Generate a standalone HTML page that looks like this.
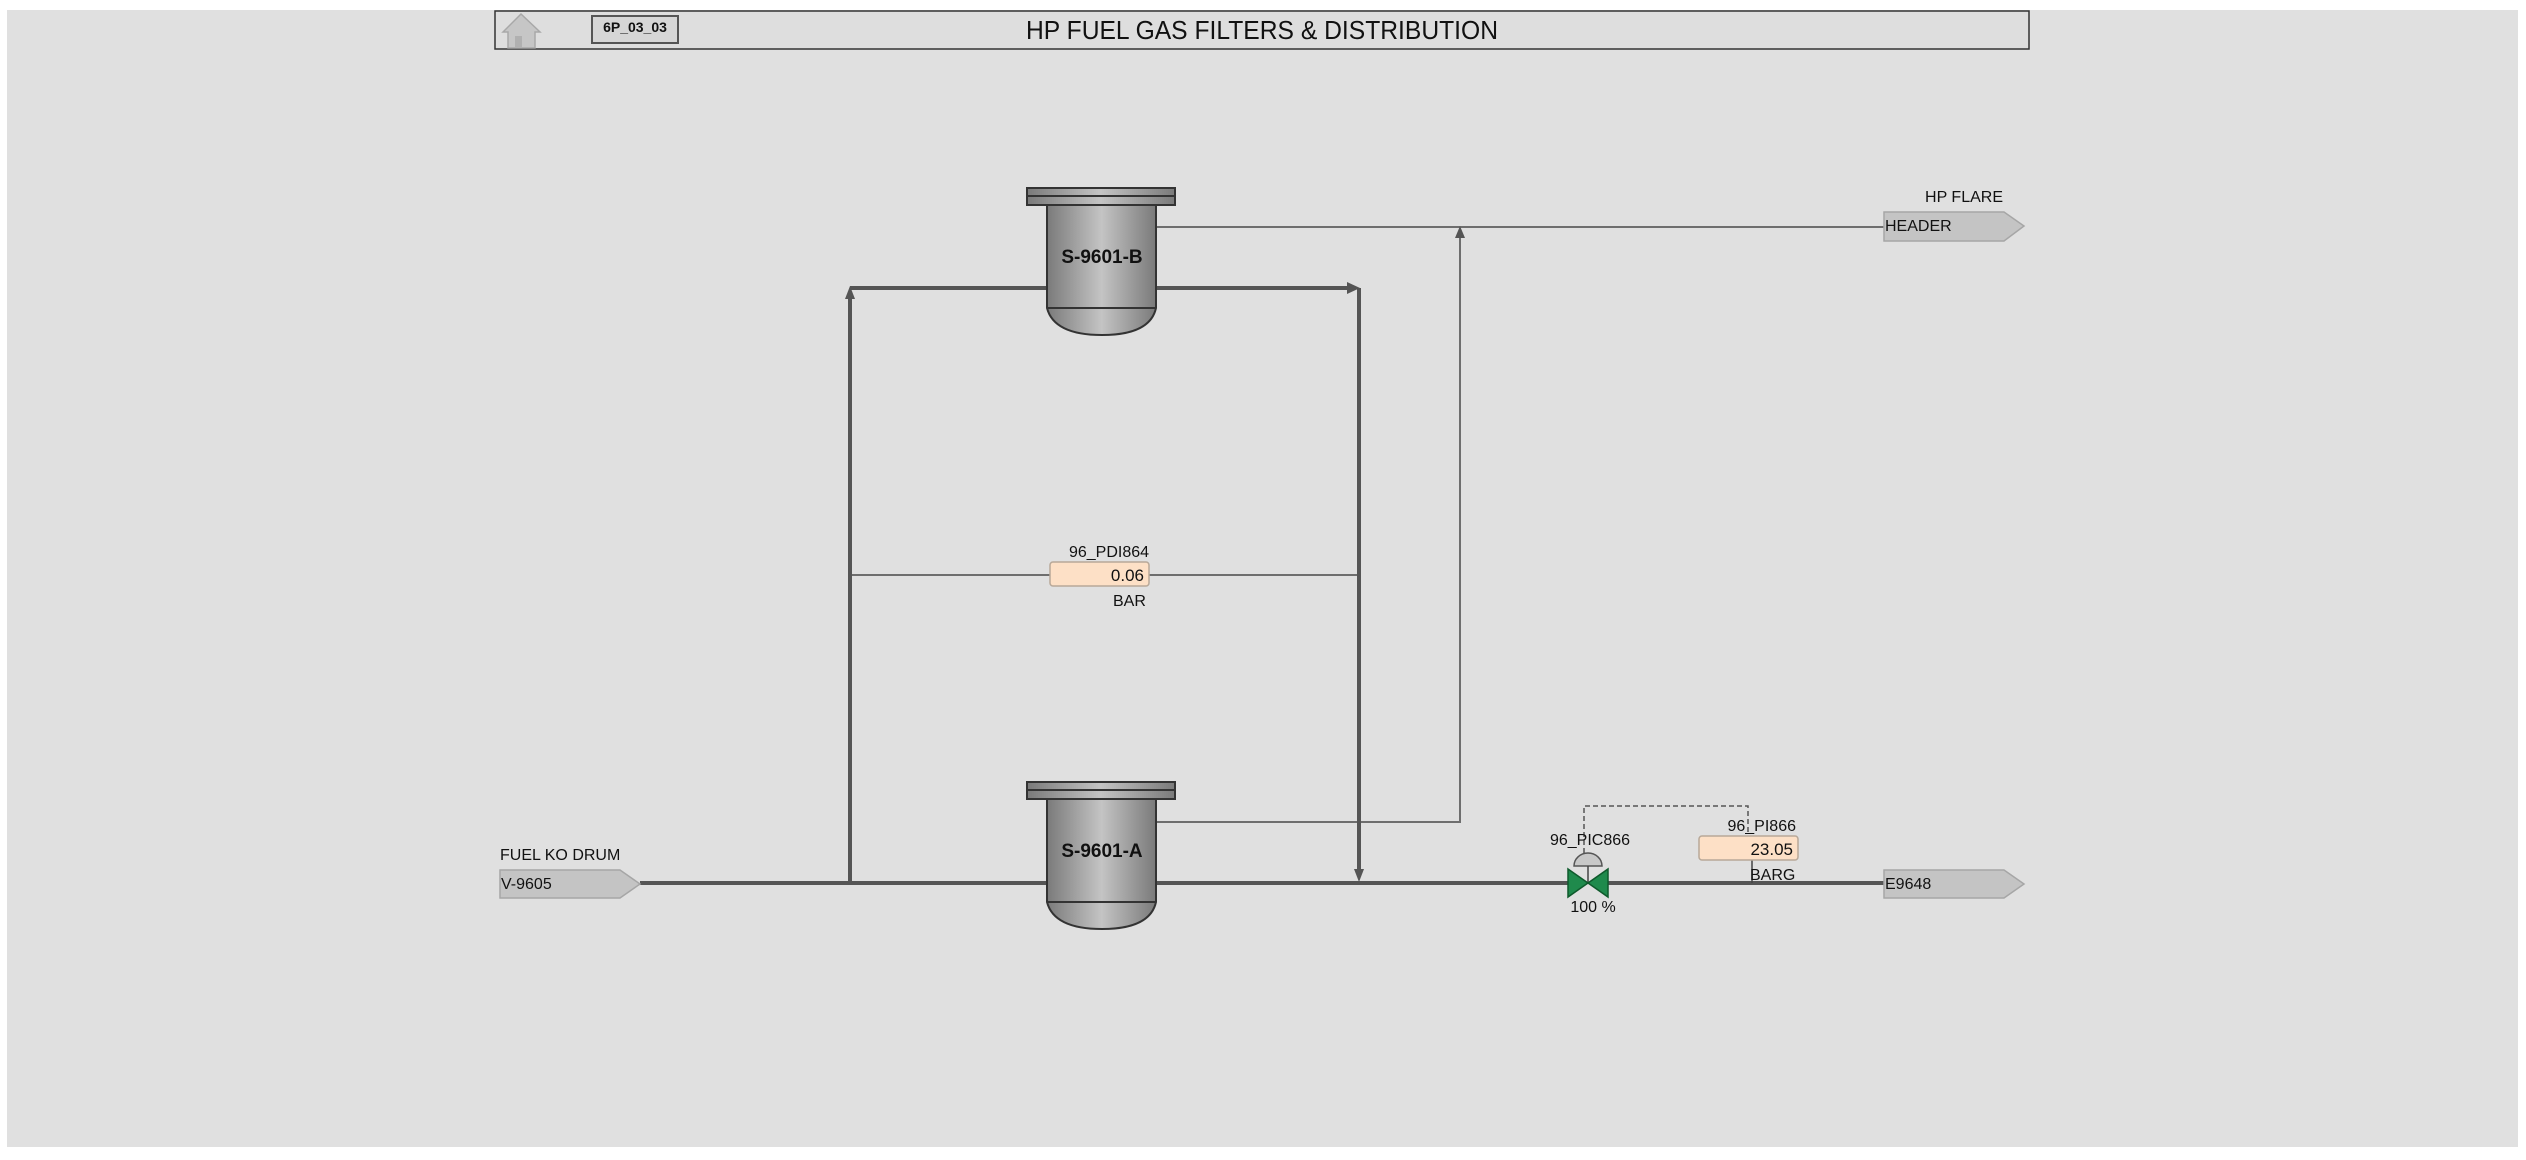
<!DOCTYPE html>
<html><head><meta charset="utf-8"><style>
html,body{margin:0;padding:0;background:#fff;}
svg{display:block;font-family:"Liberation Sans",Arial,sans-serif;}
</style></head><body>
<svg width="2526" height="1160" viewBox="0 0 2526 1160" xmlns="http://www.w3.org/2000/svg">
<defs>
<linearGradient id="g" x1="0" x2="1" y1="0" y2="0">
<stop offset="0" stop-color="#7a7a7a"/><stop offset="0.5" stop-color="#c4c4c4"/><stop offset="1" stop-color="#7a7a7a"/>
</linearGradient>
</defs>
<rect x="0" y="0" width="2526" height="1160" fill="#ffffff"/>
<rect x="7" y="10" width="2511" height="1137" fill="#e0e0e0"/>

<!-- header -->
<rect x="495" y="11" width="1534" height="38" fill="#dedede" stroke="#333" stroke-width="1.5"/>
<g fill="#c6c6c6" stroke="#a8a8a8" stroke-width="1.5">
<polygon points="503,32 521,14 540,32 535,32 535,48 508,48 508,32"/>
</g>
<rect x="515" y="36" width="7" height="12" fill="#b0b0b0"/>
<rect x="592" y="16" width="86" height="27" fill="#d6d6d6" stroke="#555" stroke-width="2"/>
<text x="635" y="32" font-size="14" font-weight="bold" text-anchor="middle" fill="#111">6P_03_03</text>
<text x="1026" y="39" font-size="26" textLength="472" lengthAdjust="spacingAndGlyphs" fill="#111">HP FUEL GAS FILTERS &amp; DISTRIBUTION</text>

<!-- thin lines -->
<g stroke="#6e6e6e" stroke-width="2" fill="none">
<line x1="1156" y1="227" x2="1884" y2="227"/>
<polyline points="1156,822 1460,822 1460,236"/>
<line x1="850" y1="575" x2="1050" y2="575"/>
<line x1="1149" y1="575" x2="1358" y2="575"/>
</g>
<polygon points="1460,226 1455,238 1465,238" fill="#555"/>

<!-- thick pipes -->
<g stroke="#555" stroke-width="4" fill="none">
<line x1="640" y1="883" x2="1568" y2="883"/>
<line x1="1608" y1="883" x2="1884" y2="883"/>
<line x1="850" y1="883" x2="850" y2="296"/>
<line x1="850" y1="288" x2="1047" y2="288"/>
<line x1="1156" y1="288" x2="1348" y2="288"/>
<line x1="1359" y1="288" x2="1359" y2="872"/>
</g>
<polygon points="850,286 845,299 855,299" fill="#555"/>
<polygon points="1360,288 1347,282 1347,294" fill="#555"/>
<polygon points="1359,882 1354,869 1364,869" fill="#555"/>

<!-- filter B -->
<g stroke="#333" stroke-width="2">
<rect x="1027" y="188" width="148" height="17" fill="url(#g)"/>
<line x1="1027" y1="196" x2="1175" y2="196"/>
<path d="M1047,205 L1156,205 L1156,308 Q1150,335 1102,335 Q1054,335 1047,308 Z" fill="url(#g)"/>
<line x1="1047" y1="308" x2="1156" y2="308"/>
</g>
<text x="1102" y="263" font-size="19" font-weight="bold" text-anchor="middle" fill="#111">S-9601-B</text>

<!-- filter A -->
<g stroke="#333" stroke-width="2">
<rect x="1027" y="782" width="148" height="17" fill="url(#g)"/>
<line x1="1027" y1="790" x2="1175" y2="790"/>
<path d="M1047,799 L1156,799 L1156,902 Q1150,929 1102,929 Q1054,929 1047,902 Z" fill="url(#g)"/>
<line x1="1047" y1="902" x2="1156" y2="902"/>
</g>
<text x="1102" y="857" font-size="19" font-weight="bold" text-anchor="middle" fill="#111">S-9601-A</text>

<!-- PDI -->
<text x="1109" y="557" font-size="16" text-anchor="middle" fill="#111">96_PDI864</text>
<rect x="1050" y="562" width="99" height="24" rx="3" fill="#fde0c6" stroke="#b8a898" stroke-width="1.5"/>
<text x="1144" y="581" font-size="17" text-anchor="end" fill="#111">0.06</text>
<text x="1113" y="606" font-size="16" fill="#111">BAR</text>

<!-- off-page connectors -->
<g fill="#c4c4c4" stroke="#a6a6a6" stroke-width="1.5">
<polygon points="500,870 620,870 640,884 620,898 500,898"/>
<polygon points="1884,212 2004,212 2024,226 2004,241 1884,241"/>
<polygon points="1884,870 2004,870 2024,884 2004,898 1884,898"/>
</g>
<text x="500" y="860" font-size="16" fill="#111">FUEL KO DRUM</text>
<text x="501" y="889" font-size="16" fill="#111">V-9605</text>
<text x="2003" y="202" font-size="16" text-anchor="end" fill="#111">HP FLARE</text>
<text x="1885" y="231" font-size="16" fill="#111">HEADER</text>
<text x="1885" y="889" font-size="16" fill="#111">E9648</text>

<!-- control valve -->
<polyline points="1584,853 1584,806 1748,806 1748,834" fill="none" stroke="#555" stroke-width="1.5" stroke-dasharray="5,3"/>
<path d="M1574,866 A14,13 0 0 1 1602,866 Z" fill="#c8c8c8" stroke="#555" stroke-width="1.5"/>
<line x1="1588" y1="866" x2="1588" y2="883" stroke="#444" stroke-width="1.5"/>
<polygon points="1568,869 1608,897 1608,869 1568,897" fill="#1f8a4c" stroke="#0f5a2c" stroke-width="1.5"/>
<text x="1590" y="845" font-size="16" text-anchor="middle" fill="#111">96_PIC866</text>
<text x="1593" y="912" font-size="16" text-anchor="middle" fill="#111">100 %</text>

<!-- PI -->
<text x="1796" y="831" font-size="16" text-anchor="end" fill="#111">96_PI866</text>
<line x1="1752" y1="860" x2="1752" y2="883" stroke="#444" stroke-width="1.5"/>
<rect x="1699" y="836" width="99" height="24" rx="3" fill="#fde0c6" stroke="#b8a898" stroke-width="1.5"/>
<text x="1793" y="855" font-size="17" text-anchor="end" fill="#111">23.05</text>
<text x="1750" y="880" font-size="16" fill="#111">BARG</text>
</svg>
</body></html>
